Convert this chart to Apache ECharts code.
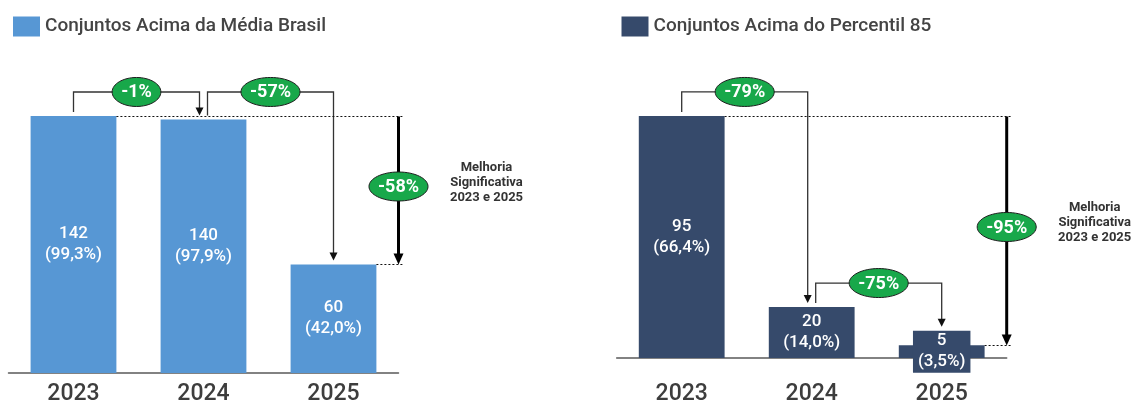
<!DOCTYPE html>
<html><head><meta charset="utf-8">
<script src="https://cdn.jsdelivr.net/npm/echarts@6/dist/echarts.min.js"></script>
<style>html,body{margin:0;padding:0;background:#fff}#c{width:1136px;height:406px}</style>
</head><body><div id="c"></div>
<script>
// ---- data ----
const years = ['2023', '2024', '2025'];
const brasilName = 'Conjuntos Acima da Média Brasil';
const brasilValues = [142, 140, 60];
const brasilShares = ['99,3%', '97,9%', '42,0%'];
const brasilSteps = [[0, 1, '-1%'], [1, 2, '-57%']];
const brasilTotal = [0, 2, '-58%'];
const p85Name = 'Conjuntos Acima do Percentil 85';
const p85Values = [95, 20, 5];
const p85Shares = ['66,4%', '14,0%', '3,5%'];
const p85Steps = [[0, 1, '-79%'], [1, 2, '-75%']];
const p85Total = [0, 2, '-95%'];
const totalNote = ['Melhoria', 'Significativa', '2023 e 2025'];

// ---- styles ----
const FONT = 'Roboto';
const BLUE = '#5797D4', NAVY = '#364A6B', GREEN = '#18A84A';
const LINE = '#333333';
const LABEL_HALF = 21;
const BAR_RATIO = 0.66;
const BADGE_FONT = 'bold 18px ' + FONT;

const ctx = document.createElement('canvas').getContext('2d');
function textW(t, f) { ctx.font = f; return ctx.measureText(t).width; }

function barLabelTop(api, values, idx) {
  const top = api.coord([idx, values[idx]])[1];
  const base = api.coord([idx, 0])[1];
  return Math.min(top, (top + base) / 2 - LABEL_HALF);
}

function badge(cx, cy, text) {
  const w = textW(text, BADGE_FONT);
  return [
    { type: 'ellipse', shape: { cx: cx, cy: cy, rx: w / 2 + 9, ry: 14.5 },
      style: { fill: GREEN, stroke: '#1e1e1e', lineWidth: 1 } },
    { type: 'text', style: { x: cx, y: cy + 1, text: text, fill: '#fff', font: BADGE_FONT,
      align: 'center', verticalAlign: 'middle' } }
  ];
}

function stepGeom(api, values, steps, i) {
  const from = steps[i][0], to = steps[i][1];
  const endAtFrom = steps.some(s => s[1] === from);
  const startAtTo = steps.some(s => s[0] === to);
  const x0 = api.coord([from, 0])[0] + (endAtFrom ? 4 : 0);
  const x1 = api.coord([to, 0])[0] - (startAtTo ? 4 : 0);
  const y0 = barLabelTop(api, values, from) - 4;
  const y1 = barLabelTop(api, values, to) - 4;
  let yTop = Math.min(y0, y1) - 20;
  if (i > 0) {
    const p = stepGeom(api, values, steps, i - 1);
    if (Math.abs(p.yTop - yTop) < 8) yTop = p.yTop;
  }
  return { x0, x1, y0, y1, yTop };
}

function stepRender(values, steps) {
  return function (params, api) {
    const g = stepGeom(api, values, steps, params.dataIndex);
    const ah = 8, aw = 4;
    return { type: 'group', children: [
      { type: 'polyline', shape: { points: [[g.x0, g.y0], [g.x0, g.yTop], [g.x1, g.yTop], [g.x1, g.y1 - ah + 1]] },
        style: { stroke: LINE, lineWidth: 1.3, fill: null } },
      { type: 'polygon', shape: { points: [[g.x1 - aw, g.y1 - ah], [g.x1 + aw, g.y1 - ah], [g.x1, g.y1]] },
        style: { fill: '#111' } }
    ].concat(badge((g.x0 + g.x1) / 2, g.yTop, steps[params.dataIndex][2])) };
  };
}

function totalRender(values, total) {
  return function (params, api) {
    const from = total[0], to = total[1];
    const band = api.size([1, 0])[0];
    const xR = api.coord([to, 0])[0] + band / 2;
    const yA = Math.round(api.coord([from, values[from]])[1]) + 0.5;
    const yB = Math.round(api.coord([to, values[to]])[1]) + 0.5;
    const rA = api.coord([from, 0])[0] + band * BAR_RATIO / 2;
    const rB = api.coord([to, 0])[0] + band * BAR_RATIO / 2;
    const dot = { stroke: '#111', lineWidth: 1, lineDash: [2, 2] };
    const mid = (yA + yB) / 2;
    return { type: 'group', children: [
      { type: 'line', shape: { x1: rA, y1: yA, x2: xR + 5, y2: yA }, style: dot },
      { type: 'line', shape: { x1: rB, y1: yB, x2: xR + 5, y2: yB }, style: dot },
      { type: 'line', shape: { x1: xR, y1: yA, x2: xR, y2: yB - 9 }, style: { stroke: '#000', lineWidth: 3 } },
      { type: 'polygon', shape: { points: [[xR - 5, yB - 11], [xR + 5, yB - 11], [xR, yB]] }, style: { fill: '#000' } },
      { type: 'text', style: { x: xR + 88, y: mid - 8, text: totalNote.join('\n'), fill: '#333',
        font: 'bold 13px ' + FONT, lineHeight: 15, align: 'center', verticalAlign: 'middle' } }
    ].concat(badge(xR, mid - 4, total[2])) };
  };
}

function barData(values, color) {
  const max = Math.max.apply(null, values);
  return values.map(v => v < max * 0.15
    ? { value: v, label: { backgroundColor: color, padding: [0, 5] } }
    : v);
}

function barLabel(shares) {
  return { show: true, position: 'inside', color: '#fff', fontSize: 17, fontWeight: 500,
    fontFamily: FONT, lineHeight: 21,
    formatter: p => p.value + '\n(' + shares[p.dataIndex] + ')' };
}

function xAxis(gi, margin) {
  return { gridIndex: gi, type: 'category', data: years, axisTick: { show: false },
    axisLine: { lineStyle: { color: '#5a5a5a', width: 1.5 } },
    axisLabel: { fontSize: 23, fontWeight: 500, color: '#3d3d3d', fontFamily: FONT, margin: margin } };
}

const chart = echarts.init(document.getElementById('c'), null, { renderer: 'canvas' });
chart.setOption({
  animation: false,
  textStyle: { fontFamily: FONT },
  legend: [
    { left: 8, top: 11.5, itemWidth: 27, itemHeight: 20, icon: 'rect', selectedMode: false,
      data: [brasilName], textStyle: { fontSize: 19, fontWeight: 500, color: '#444', fontFamily: FONT } },
    { left: 616.5, top: 11.5, itemWidth: 27, itemHeight: 20, icon: 'rect', selectedMode: false,
      data: [p85Name], textStyle: { fontSize: 19, fontWeight: 500, color: '#444', fontFamily: FONT } }
  ],
  grid: [
    { left: 8.5, width: 390, top: 101.5, height: 271.8 },
    { left: 616.7, width: 390, top: 103.2, height: 255.5 }
  ],
  xAxis: [xAxis(0, 10), xAxis(1, 25)],
  yAxis: [
    { gridIndex: 0, type: 'value', min: 0, max: 150, show: false },
    { gridIndex: 1, type: 'value', min: 0, max: 100, show: false }
  ],
  series: [
    { name: brasilName, type: 'bar', xAxisIndex: 0, yAxisIndex: 0, barWidth: (BAR_RATIO * 100) + '%',
      itemStyle: { color: BLUE }, data: barData(brasilValues, BLUE), label: barLabel(brasilShares) },
    { name: p85Name, type: 'bar', xAxisIndex: 1, yAxisIndex: 1, barWidth: (BAR_RATIO * 100) + '%',
      itemStyle: { color: NAVY }, data: barData(p85Values, NAVY), label: barLabel(p85Shares) },
    { type: 'custom', xAxisIndex: 0, yAxisIndex: 0, z: 5, silent: true,
      renderItem: stepRender(brasilValues, brasilSteps), data: brasilSteps.map(s => [s[0], s[1]]) },
    { type: 'custom', xAxisIndex: 1, yAxisIndex: 1, z: 5, silent: true,
      renderItem: stepRender(p85Values, p85Steps), data: p85Steps.map(s => [s[0], s[1]]) },
    { type: 'custom', xAxisIndex: 0, yAxisIndex: 0, z: 5, silent: true,
      renderItem: totalRender(brasilValues, brasilTotal), data: [[brasilTotal[0], brasilTotal[1]]] },
    { type: 'custom', xAxisIndex: 1, yAxisIndex: 1, z: 5, silent: true,
      renderItem: totalRender(p85Values, p85Total), data: [[p85Total[0], p85Total[1]]] }
  ]
});
</script>
</body></html>
